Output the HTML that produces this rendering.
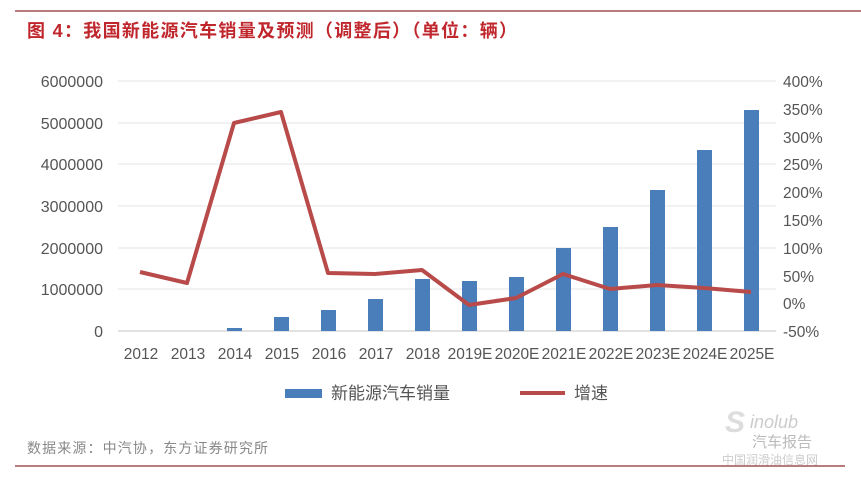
<!DOCTYPE html><html><head><meta charset="utf-8"><style>
body{margin:0;background:#fff;width:861px;height:483px;overflow:hidden}
svg text{font-family:"Liberation Sans","Noto Sans CJK SC",sans-serif}
</style></head><body>
<svg width="861" height="483" xmlns="http://www.w3.org/2000/svg">
<line x1="15" y1="11" x2="861" y2="11" stroke="#a05050" stroke-width="1.5"/>
<text x="27" y="37" font-size="18" font-weight="bold" fill="#c0272d" textLength="490" lengthAdjust="spacing">图 4：我国新能源汽车销量及预测（调整后）（单位：辆）</text>
<g stroke="#e4e4e4" stroke-width="1">
<line x1="118" y1="81" x2="776" y2="81"/><line x1="118" y1="123" x2="776" y2="123"/><line x1="118" y1="164" x2="776" y2="164"/><line x1="118" y1="206" x2="776" y2="206"/><line x1="118" y1="248" x2="776" y2="248"/><line x1="118" y1="289" x2="776" y2="289"/>
</g>
<line x1="118" y1="331" x2="776" y2="331" stroke="#d0d0d0" stroke-width="1.2"/>
<g font-size="16" fill="#555" text-anchor="end">
<text x="103" y="87">6000000</text><text x="103" y="129">5000000</text><text x="103" y="170">4000000</text><text x="103" y="212">3000000</text><text x="103" y="254">2000000</text><text x="103" y="295">1000000</text><text x="103" y="337">0</text>
</g>
<g font-size="15.5" fill="#555">
<text x="783" y="87">400%</text><text x="783" y="115">350%</text><text x="783" y="143">300%</text><text x="783" y="170">250%</text><text x="783" y="198">200%</text><text x="783" y="226">150%</text><text x="783" y="254">100%</text><text x="783" y="282">50%</text><text x="783" y="309">0%</text><text x="783" y="337">-50%</text>
</g>
<g fill="#4a7ebb">
<rect x="227" y="328" width="15" height="3"/><rect x="274" y="317" width="15" height="14"/><rect x="321" y="310" width="15" height="21"/><rect x="368" y="299" width="15" height="32"/><rect x="415" y="279" width="15" height="52"/><rect x="462" y="281" width="15" height="50"/><rect x="509" y="277" width="15" height="54"/><rect x="556" y="248" width="15" height="83"/><rect x="603" y="227" width="15" height="104"/><rect x="650" y="190" width="15" height="141"/><rect x="697" y="150" width="15" height="181"/><rect x="744" y="110" width="15" height="221"/>
</g>
<polyline fill="none" stroke="#b84a4a" stroke-width="4" stroke-linejoin="round" points="140,272 187,283 234,123 281,112 328,273 375,274 422,270 469,305 516,298 563,274 610,289 657,285 704,288 751,292"/>
<g font-size="15.5" fill="#555" text-anchor="middle">
<text x="141" y="359">2012</text><text x="188" y="359">2013</text><text x="235" y="359">2014</text><text x="282" y="359">2015</text><text x="329" y="359">2016</text><text x="376" y="359">2017</text><text x="423" y="359">2018</text><text x="470" y="359">2019E</text><text x="517" y="359">2020E</text><text x="564" y="359">2021E</text><text x="611" y="359">2022E</text><text x="658" y="359">2023E</text><text x="705" y="359">2024E</text><text x="752" y="359">2025E</text>
</g>
<rect x="285" y="389" width="37" height="9" fill="#4a7ebb"/>
<text x="331" y="399" font-size="17" fill="#555">新能源汽车销量</text>
<line x1="520" y1="393" x2="565" y2="393" stroke="#b84a4a" stroke-width="4"/>
<text x="574" y="399" font-size="17" fill="#555">增速</text>
<text x="27" y="453" font-size="14" fill="#888" textLength="241" lengthAdjust="spacing">数据来源：中汽协，东方证券研究所</text>
<text x="725" y="432" font-size="30" font-style="italic" font-weight="bold" fill="#ddd">S</text>
<text x="750" y="428" font-size="18" font-style="italic" fill="#ccc">inolub</text>
<text x="752" y="447" font-size="15" fill="#bbb">汽车报告</text>
<text x="722" y="464" font-size="12" fill="#ccc">中国润滑油信息网</text>
<line x1="15" y1="466" x2="845" y2="466" stroke="#a05050" stroke-width="1.5"/>
</svg>
</body></html>
